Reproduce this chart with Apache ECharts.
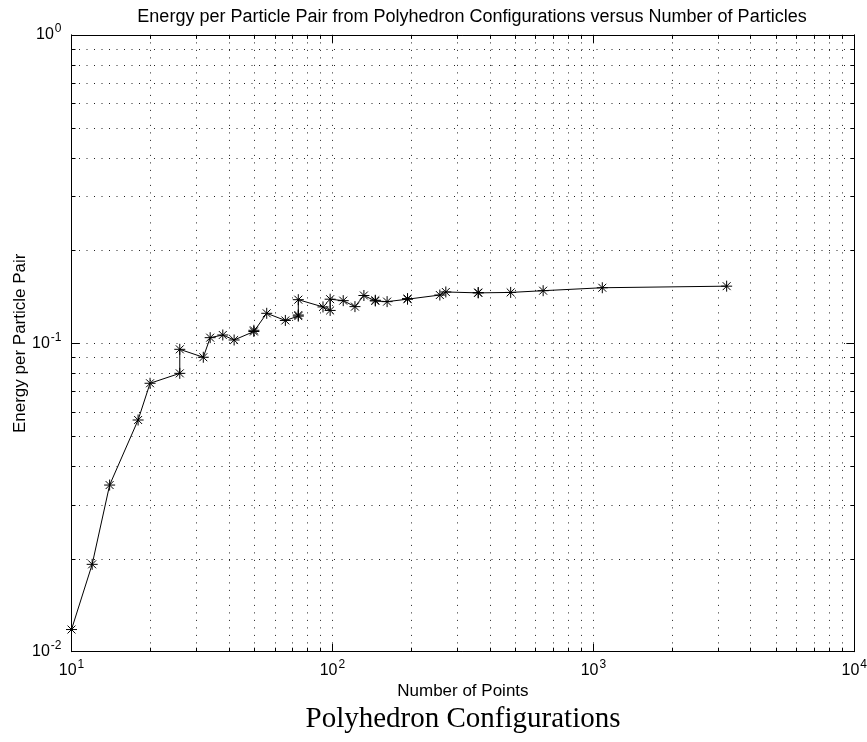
<!DOCTYPE html>
<html>
<head>
<meta charset="utf-8">
<script src="https://cdn.jsdelivr.net/npm/echarts@6/dist/echarts.min.js"></script>
<style>
  html, body { margin: 0; padding: 0; background: #fff; }
  #chart { width: 867px; height: 742px; }
</style>
</head>
<body>
<div id="chart"></div>
<script>
// Number of particles for each polyhedron configuration
const numPoints = [10, 12, 14, 18, 20, 26, 26, 32, 34, 38, 42, 50, 50, 56, 66, 74, 74, 74,
  92, 98, 98, 110, 122, 132, 146, 146, 162, 194, 194, 258, 272, 362, 362, 482, 642, 1082, 3242];
// Energy per particle pair for each configuration
const energyPerPair = [0.0118, 0.0192, 0.0347, 0.0564, 0.0742, 0.0799, 0.0956, 0.0901, 0.1043, 0.1064,
  0.1025, 0.1092, 0.1102, 0.1251, 0.1186, 0.1225, 0.1235, 0.1385,
  0.1312, 0.1278, 0.1390, 0.1375, 0.1315, 0.1429, 0.1372, 0.1379, 0.1365, 0.1390, 0.1396,
  0.1434, 0.1467, 0.1457, 0.1461, 0.1462, 0.1481, 0.1514, 0.1532];

// Axis ranges and minor (2..9) grid positions
const xRange = [10, 10000];
const yRange = [0.01, 1];
const xMinor = [20, 30, 40, 50, 60, 70, 80, 90, 200, 300, 400, 500, 600, 700, 800, 900,
  2000, 3000, 4000, 5000, 6000, 7000, 8000, 9000];
const yMinor = [0.02, 0.03, 0.04, 0.05, 0.06, 0.07, 0.08, 0.09, 0.2, 0.3, 0.4, 0.5, 0.6, 0.7, 0.8, 0.9];

const titleText = 'Energy per Particle Pair from Polyhedron Configurations versus Number of Particles';
const xName = 'Number of Points';
const yName = 'Energy per Particle Pair';
const caption = 'Polyhedron Configurations';

const sans = 'Liberation Sans, Arial, Helvetica, sans-serif';
const serif = 'Liberation Serif, Times New Roman, serif';
const dotted = [1, 6.5];
const gridColor = '#222';

const chart = echarts.init(document.getElementById('chart'), null, { renderer: 'canvas' });

// "10" with a superscript exponent
function powLabel(v) {
  const e = Math.round(Math.log10(v));
  return '{b|10}{s|' + e + '}';
}
const labelStyle = {
  show: true,
  fontSize: 16,
  fontFamily: sans,
  color: '#000',
  formatter: powLabel,
  rich: {
    b: { fontSize: 16, fontFamily: sans, color: '#000', lineHeight: 20, padding: [4, 0, 0, 0], verticalAlign: 'bottom' },
    s: { fontSize: 12, fontFamily: sans, color: '#000', lineHeight: 10, verticalAlign: 'top', padding: [0, 0, 0, 1] }
  }
};

const asterisk = 'path://M0,-1L0,1M-1,0L1,0M-0.72,-0.72L0.72,0.72M-0.72,0.72L0.72,-0.72';

// Dotted minor grid line with short inward ticks on both sides of the box
function minorRenderer(isX) {
  return function (params, api) {
    const cs = params.coordSys;
    const children = [];
    const tick = 4;
    const ls = { stroke: gridColor, lineWidth: 1, lineDash: dotted };
    const ts = { stroke: '#000', lineWidth: 1 };
    if (isX) {
      const x = Math.round(api.coord([api.value(0), yRange[0]])[0]) + 0.5;
      children.push({ type: 'line', shape: { x1: x, y1: cs.y, x2: x, y2: cs.y + cs.height }, style: ls, silent: true });
      children.push({ type: 'line', shape: { x1: x, y1: cs.y + cs.height, x2: x, y2: cs.y + cs.height - tick }, style: ts, silent: true });
      children.push({ type: 'line', shape: { x1: x, y1: cs.y, x2: x, y2: cs.y + tick }, style: ts, silent: true });
    } else {
      const y = Math.round(api.coord([xRange[0], api.value(1)])[1]) + 0.5;
      children.push({ type: 'line', shape: { x1: cs.x, y1: y, x2: cs.x + cs.width, y2: y }, style: ls, silent: true });
      children.push({ type: 'line', shape: { x1: cs.x, y1: y, x2: cs.x + tick, y2: y }, style: ts, silent: true });
      children.push({ type: 'line', shape: { x1: cs.x + cs.width, y1: y, x2: cs.x + cs.width - tick, y2: y }, style: ts, silent: true });
    }
    return { type: 'group', children: children };
  };
}

const axisCommon = {
  type: 'log',
  logBase: 10,
  nameMoveOverlap: false,
  axisLine: { show: true, onZero: false, lineStyle: { color: '#000', width: 1 } },
  axisTick: { show: true, inside: true, length: 8, lineStyle: { color: '#000', width: 1 } },
  minorTick: { show: false },
  minorSplitLine: { show: false }
};

chart.setOption({
  animation: false,
  backgroundColor: '#fff',
  title: [
    {
      text: titleText, left: 472, top: 8, padding: 0, textAlign: 'center',
      textStyle: { fontFamily: sans, fontSize: 18, fontWeight: 'normal', color: '#000' }
    },
    {
      text: caption, left: 463, top: 705, padding: 0, textAlign: 'center',
      textStyle: { fontFamily: serif, fontSize: 29, fontWeight: 'normal', color: '#000' }
    }
  ],
  grid: { left: 71.5, right: 12.7, top: 34.9, bottom: 90.3, containLabel: false, outerBoundsMode: 'none' },
  xAxis: [
    Object.assign({}, axisCommon, {
      min: xRange[0], max: xRange[1], position: 'bottom',
      name: xName, nameLocation: 'middle', nameGap: 31,
      nameTextStyle: { fontFamily: sans, fontSize: 17, color: '#000' },
      axisLabel: Object.assign({}, labelStyle, { margin: 7 }),
      splitLine: { show: true, lineStyle: { color: gridColor, width: 1, type: dotted } }
    }),
    Object.assign({}, axisCommon, {
      min: xRange[0], max: xRange[1], position: 'top',
      axisLabel: { show: false }, splitLine: { show: false }
    })
  ],
  yAxis: [
    Object.assign({}, axisCommon, {
      min: yRange[0], max: yRange[1], position: 'left',
      name: yName, nameLocation: 'middle', nameGap: 43, nameRotate: 90,
      nameTextStyle: { fontFamily: sans, fontSize: 17, color: '#000' },
      axisLabel: Object.assign({}, labelStyle, { margin: 10, padding: [0, 0, 4, 0] }),
      splitLine: { show: true, lineStyle: { color: gridColor, width: 1, type: dotted } }
    }),
    Object.assign({}, axisCommon, {
      min: yRange[0], max: yRange[1], position: 'right',
      axisLabel: { show: false }, splitLine: { show: false }
    })
  ],
  series: [
    {
      type: 'custom', coordinateSystem: 'cartesian2d', silent: true, z: 1,
      data: xMinor.map(v => [v, 0.1]),
      renderItem: minorRenderer(true)
    },
    {
      type: 'custom', coordinateSystem: 'cartesian2d', silent: true, z: 1,
      data: yMinor.map(v => [100, v]),
      renderItem: minorRenderer(false)
    },
    {
      type: 'line',
      data: numPoints.map((n, i) => [n, energyPerPair[i]]),
      symbol: asterisk,
      symbolSize: 11,
      showAllSymbol: true,
      z: 5,
      lineStyle: { color: '#000', width: 1 },
      itemStyle: { color: 'rgba(0,0,0,0)', borderColor: '#000', borderWidth: 1 }
    }
  ]
});
</script>
</body>
</html>
